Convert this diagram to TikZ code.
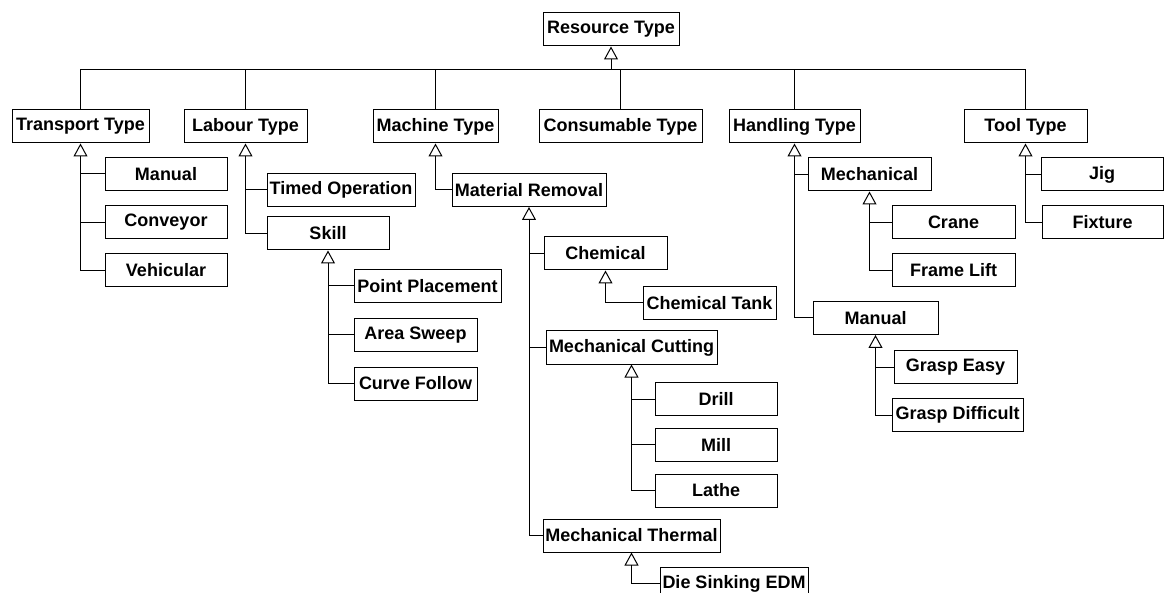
\documentclass[tikz,border=0pt]{standalone}
\usepackage{fontspec}
\setmainfont{Liberation Sans}
\usepackage{tikz}
\usetikzlibrary{arrows.meta, positioning}

\begin{document}
\begin{tikzpicture}[
  x=1pt, y=-1pt,
  cls/.style={draw, rectangle, line width=1pt, minimum height=33pt, inner sep=0pt,
    font=\bfseries\fontsize{18}{20}\selectfont},
  link/.style={draw, line width=1pt},
  gen/.style={link, -{Triangle[open, width=14pt, length=13pt, line width=1pt]}}
]
\useasboundingbox (0,0) rectangle (1164,593);

\node[cls, minimum width=136pt] (resource) at (611,29.5) {Resource Type};

\node[cls, minimum width=137pt] (transport) at (80.5,126.5) {Transport Type};
\node[cls, minimum width=123pt] (labour) at (245.5,126.5) {Labour Type};
\node[cls, minimum width=125pt] (machine) at (435.5,126.5) {Machine Type};
\node[cls, minimum width=163pt] (consumable) at (620.5,126.5) {Consumable Type};
\node[cls, minimum width=131pt] (handling) at (794.5,126.5) {Handling Type};
\node[cls, minimum width=123pt] (tool) at (1025.5,126.5) {Tool Type};

\node[cls, minimum width=122pt] (tmanual) at (166,174) {Manual};
\node[cls, minimum width=122pt] (conveyor) at (166,222.5) {Conveyor};
\node[cls, minimum width=122pt] (vehicular) at (166,270.5) {Vehicular};

\node[cls, minimum width=148pt] (timed) at (341,190) {Timed Operation};
\node[cls, minimum width=122pt] (skill) at (328,233.5) {Skill};
\node[cls, minimum width=147pt] (point) at (427.5,286) {Point Placement};
\node[cls, minimum width=123pt] (area) at (415.5,335) {Area Sweep};
\node[cls, minimum width=123pt] (curve) at (415.5,383.5) {Curve Follow};

\node[cls, minimum width=154pt] (material) at (529,190) {Material Removal};
\node[cls, minimum width=123pt] (chemical) at (605.5,253.5) {Chemical};
\node[cls, minimum width=133pt] (tank) at (709.5,303) {Chemical Tank};
\node[cls, minimum width=171pt] (cutting) at (631.5,347.5) {Mechanical Cutting};
\node[cls, minimum width=122pt] (drill) at (716,399) {Drill};
\node[cls, minimum width=122pt] (mill) at (716,444.5) {Mill};
\node[cls, minimum width=122pt] (lathe) at (716,490.5) {Lathe};
\node[cls, minimum width=177pt] (thermal) at (631.5,535.5) {Mechanical Thermal};
\node[cls, minimum width=148pt] (edm) at (734,583.5) {Die Sinking EDM};

\node[cls, minimum width=123pt] (mechanical) at (869.5,174.5) {Mechanical};
\node[cls, minimum width=123pt] (crane) at (953.5,222.5) {Crane};
\node[cls, minimum width=123pt] (frame) at (953.5,270.5) {Frame Lift};
\node[cls, minimum width=125pt] (hmanual) at (875.5,318) {Manual};
\node[cls, minimum width=123pt] (easy) at (955.5,367) {Grasp Easy};
\node[cls, minimum width=131pt] (difficult) at (957.5,415) {Grasp Difficult};

\node[cls, minimum width=122pt] (jig) at (1102,174.5) {Jig};
\node[cls, minimum width=121pt] (fixture) at (1102.5,222.5) {Fixture};

\coordinate (bus) at (0,70);
\draw[link] (transport.north) |- (tool.north |- bus) -- (tool.north);
\foreach \n in {labour, machine, consumable, handling}
  \draw[link] (\n.north) -- (\n.north |- bus);
\draw[gen] (resource.south |- bus) -- (resource.south);

\draw[gen] (vehicular.west) -| (transport.south);
\draw[link] (tmanual.west) -- (tmanual.west -| transport.south);
\draw[link] (conveyor.west) -- (conveyor.west -| transport.south);

\draw[gen] (skill.west) -| (labour.south);
\draw[link] (timed.west) -- (timed.west -| labour.south);

\draw[gen] (curve.west) -| (skill.south);
\draw[link] (point.west) -- (point.west -| skill.south);
\draw[link] (area.west) -- (area.west -| skill.south);

\draw[gen] (material.west) -| (machine.south);

\draw[gen] (thermal.west) -| (material.south);
\draw[link] (chemical.west) -- (chemical.west -| material.south);
\draw[link] (cutting.west) -- (cutting.west -| material.south);

\draw[gen] (tank.west) -| (chemical.south);

\draw[gen] (lathe.west) -| (cutting.south);
\draw[link] (drill.west) -- (drill.west -| cutting.south);
\draw[link] (mill.west) -- (mill.west -| cutting.south);

\draw[gen] (edm.west) -| (thermal.south);

\draw[gen] (hmanual.west) -| (handling.south);
\draw[link] (mechanical.west) -- (mechanical.west -| handling.south);

\draw[gen] (frame.west) -| (mechanical.south);
\draw[link] (crane.west) -- (crane.west -| mechanical.south);

\draw[gen] (difficult.west) -| (hmanual.south);
\draw[link] (easy.west) -- (easy.west -| hmanual.south);

\draw[gen] (fixture.west) -| (tool.south);
\draw[link] (jig.west) -- (jig.west -| tool.south);
\end{tikzpicture}
\end{document}
